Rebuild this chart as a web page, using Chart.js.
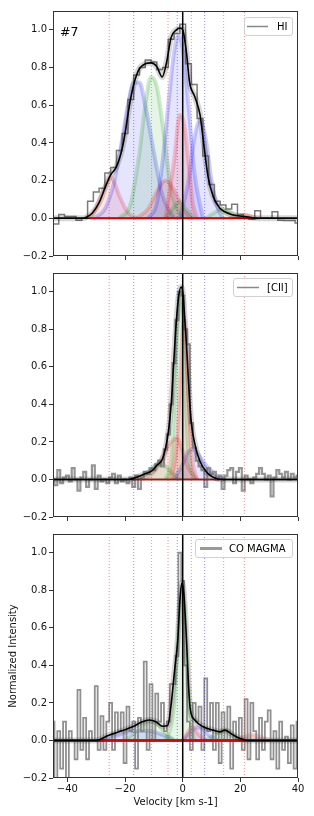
<!DOCTYPE html>
<html>
<head>
<meta charset="utf-8">
<script src="https://cdn.jsdelivr.net/npm/chart.js@4.4.0/dist/chart.umd.min.js"></script>
<style>
  html, body { margin: 0; padding: 0; background: #fff; }
  body { width: 314px; height: 816px; position: relative; overflow: hidden; }
  .wrap { position: absolute; left: 0; width: 314px; }
</style>
</head>
<body>
<div class="wrap" style="top:0px;height:264px"><canvas id="c1"></canvas></div>
<div class="wrap" style="top:264px;height:262px"><canvas id="c2"></canvas></div>
<div class="wrap" style="top:526px;height:290px"><canvas id="c3"></canvas></div>
<script>
// Axis ranges and ticks (shared by the three panels)
var xMin = -45, xMax = 40, yMin = -0.2, yMax = 1.1;
var xTicks = [-40, -20, 0, 20, 40];
var yTicks = [-0.2, 0, 0.2, 0.4, 0.6, 0.8, 1.0];

// Component centres (dotted lines) and their colours
var lineVel = [-25.5, -17, -10.8, -5.1, -1.9, 3.0, 7.6, 14.2, 21.4];
var lineCol = ["r", "b", "g", "r", "b", "r", "b", "g", "r"];

// HI spectrum, 2 km/s channels
var hiVel = [-46, -44, -42, -40, -38, -36, -34, -32, -30, -28, -26, -24, -22, -20, -18, -16, -14, -12, -10, -8, -6,
  -4, -2, 0, 2, 4, 6, 8, 10, 12, 14, 16, 18, 20, 22, 24, 26, 28, 30, 32, 34, 36, 38, 40];
var hiData = [-0.03, -0.03, 0.02, 0.01, 0.01, -0.01, 0.0, 0.09, 0.14, 0.16, 0.24, 0.27, 0.36, 0.45, 0.63, 0.76, 0.80, 0.84, 0.83, 0.79, 0.80,
  0.95, 0.98, 1.03, 0.82, 0.71, 0.53, 0.33, 0.18, 0.09, 0.07, 0.05, 0.075, 0.02, 0.0, -0.005, 0.04, 0.0, 0.0, 0.035, -0.01, -0.012, -0.012, -0.025];
var hiFitVel = [-45, -35, -33.8, -31.4, -29.1, -26.8, -25, -23.3, -22.1, -21, -20, -19, -18, -17, -16, -15, -13, -11, -9, -7.1,
  -5.7, -4, -2.2, -1, 0, 1.3, 2.4, 4.2, 6, 7.1, 8.8, 10.6, 12.9, 16.4, 22.2, 26, 40];
var hiFit = [0, 0, 0.003, 0.027, 0.08, 0.168, 0.23, 0.265, 0.31, 0.37, 0.45, 0.55, 0.64, 0.71, 0.76, 0.795, 0.82, 0.825, 0.805, 0.75,
  0.82, 0.96, 1.0, 1.01, 1.0, 0.88, 0.72, 0.645, 0.55, 0.42, 0.22, 0.115, 0.053, 0.023, 0.008, 0, 0];
var hiComps = [
  ["r", [-34, -31, -28, -26, -25, -24, -22, -19, -16], [0, 0.03, 0.13, 0.2, 0.22, 0.2, 0.12, 0.03, 0]],
  ["b", [-31, -27, -24, -21, -19, -17, -15, -13, -10, -7, -3], [0, 0.05, 0.18, 0.42, 0.6, 0.72, 0.72, 0.6, 0.35, 0.12, 0]],
  ["g", [-22, -18, -15, -13, -11, -9, -7, -4, 0], [0, 0.08, 0.35, 0.6, 0.75, 0.7, 0.5, 0.15, 0]],
  ["r", [-16, -12, -9, -6, -3, 0, 3], [0, 0.05, 0.14, 0.2, 0.15, 0.05, 0]],
  ["b", [-12, -9, -7, -5, -3, -1.5, 0, 2, 4, 7], [0, 0.08, 0.3, 0.6, 0.88, 0.97, 0.9, 0.6, 0.25, 0]],
  ["b", [-1, 2, 4, 6, 8, 10, 12, 14], [0, 0.2, 0.42, 0.52, 0.42, 0.2, 0.06, 0]],
  ["r", [-6, -3, -1, 0.5, 2, 3.5, 5], [0, 0.3, 0.55, 0.5, 0.3, 0.08, 0]],
  ["g", [-6, -3, -1, 1, 4], [0, 0.06, 0.09, 0.05, 0]],
  ["g", [8, 11, 14, 17, 20], [0, 0.03, 0.05, 0.03, 0]],
  ["r", [16, 19, 21.5, 24, 27], [0, 0.01, 0.02, 0.01, 0]]
];

// [CII] spectrum, 1 km/s channels from -45 to 40
var ciiVel = [];
for (var v = -45; v <= 40; v++) ciiVel.push(v);
var ciiData = [0.0, -0.03, 0.05, -0.02, 0.01, 0.02, -0.01, 0.06, 0.0, -0.06,
  0.01, 0.04, -0.04, 0.0, 0.075, -0.05, 0.02, -0.01, 0.0, -0.02,
  0.01, 0.03, -0.02, 0.02, -0.01, 0.0, -0.02, 0.01, -0.04, 0.02,
  -0.05, 0.01, 0.04, 0.03, 0.06, 0.05, 0.08, 0.1, 0.07, 0.16,
  0.24, 0.4, 0.62, 0.85, 1.0, 0.98, 0.8, 0.72, 0.3, 0.17,
  0.1, 0.07, 0.05, -0.04, 0.06, 0.03, 0.04, 0.0, 0.02, -0.05,
  0.02, 0.05, 0.06, -0.02, 0.04, 0.06, -0.06, 0.02, 0.0, -0.02,
  0.01, 0.03, 0.06, 0.03, 0.0, 0.02, -0.09, 0.01, 0.05, 0.03,
  0.01, 0.04, 0.0, 0.03, 0.01, 0.02];
var ciiFitVel = [-45, -19, -16, -13, -10.5, -9, -7, -5.1, -3.9, -3.2, -2.5, -1.6, -0.6, 0, 0.7, 1.3, 1.9, 2.4, 3, 4.2,
  5.9, 8.3, 10.6, 14, 40];
var ciiFit = [0, 0, 0.012, 0.03, 0.048, 0.075, 0.11, 0.24, 0.42, 0.6, 0.78, 0.95, 1.025, 1.0, 0.86, 0.72, 0.55, 0.42, 0.3, 0.19,
  0.10, 0.039, 0.012, 0, 0];
var ciiComps = [
  ["r", [-14, -10, -7, -4, -2, 0, 2, 5], [0, 0.04, 0.12, 0.2, 0.22, 0.15, 0.06, 0]],
  ["g", [-16, -12, -9, -7, -4, -1], [0, 0.04, 0.08, 0.08, 0.04, 0]],
  ["b", [-3, 0, 2, 4, 6, 9, 12, 15], [0, 0.08, 0.15, 0.16, 0.12, 0.06, 0.02, 0]],
  ["g", [-6, -4, -3, -2, -1, 0, 1, 2, 4], [0, 0.1, 0.35, 0.75, 1.0, 0.85, 0.45, 0.15, 0]],
  ["r", [-4, -2, -1, 0, 0.5, 1, 2, 3, 5], [0, 0.2, 0.5, 0.8, 0.85, 0.8, 0.45, 0.15, 0]]
];

// CO MAGMA spectrum, 1 km/s channels from -45 to 40
var coVel = ciiVel.slice();
var coData = [0.1, -0.2, 0.05, -0.15, 0.1, -0.22, 0.05, 0.0, -0.1, 0.27,
  -0.05, 0.12, -0.1, 0.05, 0.0, 0.29, -0.05, 0.13, -0.05, 0.1,
  0.2, -0.05, 0.15, 0.05, 0.15, -0.12, 0.18, 0.05, 0.1, -0.15,
  0.12, 0.05, 0.42, -0.05, 0.3, 0.0, 0.25, 0.1, 0.2, 0.05,
  0.1, 0.3, 0.3, 0.45, 1.0, 0.85, 0.4, 0.1, -0.05, 0.2,
  0.1, 0.18, -0.05, 0.33, 0.05, 0.2, -0.05, 0.2, -0.12, 0.15,
  0.0, 0.18, -0.15, 0.1, 0.0, 0.12, -0.05, 0.22, -0.1, 0.2,
  0.05, -0.1, 0.12, -0.05, 0.1, 0.16, -0.1, 0.05, -0.15, 0.1,
  -0.05, 0.02, -0.12, 0.08, -0.15, 0.1];
var coFitVel = [-45, -30.2, -25.6, -22.1, -17.4, -14, -11.6, -9.3, -7, -5.2, -4.1, -2.9, -1.7, -0.9, -0.3, 0.4, 1.3, 2, 2.6, 4.2,
  7.1, 10.6, 12.9, 14.6, 17, 19.9, 22.5, 40];
var coFit = [0, 0, 0.028, 0.046, 0.073, 0.1, 0.109, 0.1, 0.076, 0.08, 0.18, 0.36, 0.54, 0.76, 0.84, 0.78, 0.54, 0.3, 0.17, 0.109,
  0.073, 0.055, 0.046, 0.055, 0.034, 0.01, 0, 0];
var coComps = [
  ["b", [-28, -22, -17, -12, -7, -3], [0, 0.03, 0.05, 0.05, 0.03, 0]],
  ["g", [-20, -16, -13, -11, -9, -6, -3], [0, 0.05, 0.09, 0.1, 0.09, 0.04, 0]],
  ["b", [0, 3, 5, 7, 9, 12], [0, 0.05, 0.07, 0.06, 0.03, 0]],
  ["r", [0, 2, 3.5, 5, 8], [0, 0.05, 0.08, 0.04, 0]],
  ["g", [8, 11, 13, 14.5, 16, 18, 21], [0, 0.03, 0.05, 0.055, 0.05, 0.02, 0]],
  ["r", [18, 21, 24, 27, 30], [0, 0.02, 0.03, 0.02, 0]],
  ["g", [-6, -4, -3, -2, -1, -0.3, 0.5, 1.5, 2.5, 4], [0, 0.08, 0.2, 0.45, 0.72, 0.82, 0.74, 0.45, 0.15, 0]]
];

Chart.defaults.font.family = "'DejaVu Sans', sans-serif";
Chart.defaults.font.size = 10;
Chart.defaults.color = "#111";

var rgb = { r: "255,0,0", b: "0,0,255", g: "0,150,0" };

function pts(xs, ys) {
  return xs.map(function (x, i) { return { x: x, y: ys[i] }; });
}
function minus(s) { return s.replace("-", "\u2212"); }

// frame, panel tag and legend box, drawn after the datasets
var decor = {
  id: "decor",
  afterDraw: function (chart) {
    var a = chart.chartArea, ctx = chart.ctx, o = chart.options.plugins.decor;
    ctx.save();
    ctx.strokeStyle = "#333";
    ctx.lineWidth = 1;
    ctx.strokeRect(a.left + 0.5, a.top + 0.5, a.right - a.left - 1, a.bottom - a.top - 1);
    if (o.tag) {
      ctx.fillStyle = "#000";
      ctx.font = "12.5px 'DejaVu Sans', sans-serif";
      ctx.textBaseline = "alphabetic";
      ctx.fillText(o.tag, 60, 35.5);
    }
    var b = o.box;
    ctx.beginPath();
    ctx.roundRect(b[0] + 0.5, b[1] + 0.5, b[2], b[3], 2.5);
    ctx.fillStyle = "rgba(255,255,255,0.8)";
    ctx.fill();
    ctx.strokeStyle = "#d0d0d0";
    ctx.stroke();
    var cy = b[1] + b[3] / 2 + 0.5;
    ctx.beginPath();
    ctx.moveTo(b[0] + o.line[0], cy);
    ctx.lineTo(b[0] + o.line[1], cy);
    ctx.strokeStyle = o.lineColor;
    ctx.lineWidth = o.lineWidth;
    ctx.stroke();
    ctx.fillStyle = "#000";
    ctx.font = "10px 'DejaVu Sans', sans-serif";
    ctx.textBaseline = "middle";
    ctx.fillText(o.label, b[0] + o.line[2], cy + 0.5);
    ctx.restore();
  }
};

function panel(id, cfg) {
  var ds = [];
  // bottom layers first; the array is reversed at the end
  cfg.comps.forEach(function (c) {
    ds.push({
      data: pts(c[1], c[2]), borderColor: "rgba(" + rgb[c[0]] + ",0.2)", backgroundColor: "rgba(" + rgb[c[0]] + ",0.1)",
      borderWidth: 4, fill: "origin", cubicInterpolationMode: "monotone"
    });
  });
  ds.push({ data: pts(cfg.vel, cfg.data), stepped: "middle", borderColor: cfg.grey, borderWidth: cfg.greyWidth });
  lineVel.forEach(function (v, i) {
    ds.push({
      data: [{ x: v, y: yMin }, { x: v, y: yMax }], borderColor: "rgba(" + rgb[lineCol[i]] + ",0.45)",
      borderWidth: 1, borderDash: [1, 2]
    });
  });
  ds.push({ data: [{ x: xMin, y: 0 }, { x: xMax, y: 0 }], borderColor: "#111", borderWidth: 1.5 });
  ds.push({ data: [{ x: cfg.red[0], y: 0 }, { x: cfg.red[1], y: 0 }], borderColor: "rgba(235,0,0,0.9)", borderWidth: cfg.redWidth });
  ds.push({ data: pts(cfg.fitVel, cfg.fit), borderColor: "rgba(0,0,0,0.16)", borderWidth: 6, cubicInterpolationMode: "monotone" });
  ds.push({ data: pts(cfg.fitVel, cfg.fit), borderColor: "#000", borderWidth: 1.6, cubicInterpolationMode: "monotone" });
  ds.push({ data: [{ x: 0, y: yMin }, { x: 0, y: yMax }], borderColor: "#000", borderWidth: 1.5 });
  ds.forEach(function (d) { d.clip = 0; d.pointRadius = 0; if (!d.fill) d.fill = false; });
  ds.reverse();

  return new Chart(document.getElementById(id), {
    type: "line",
    data: { datasets: ds },
    options: {
      responsive: true,
      maintainAspectRatio: false,
      animation: false,
      events: [],
      layout: { padding: { top: cfg.padTop, right: 16, left: 0, bottom: 0 }, autoPadding: false },
      plugins: { legend: { display: false }, tooltip: { enabled: false }, decor: cfg.decor },
      scales: {
        x: {
          type: "linear", min: xMin, max: xMax,
          afterBuildTicks: function (s) { s.ticks = xTicks.map(function (t) { return { value: t }; }); },
          afterFit: function (s) { s.height = cfg.xH; },
          grid: { drawOnChartArea: false, drawTicks: true, tickLength: 4, color: "#333" },
          border: { display: false },
          ticks: {
            autoSkip: false, maxRotation: 0, padding: 1,
            callback: function (t) { return cfg.showX ? minus(String(t)) : ""; }
          },
          title: { display: cfg.showX, text: "Velocity [km s-1]", padding: { top: 0, bottom: 8 } }
        },
        y: {
          min: yMin, max: yMax,
          afterBuildTicks: function (s) { s.ticks = yTicks.map(function (t) { return { value: t }; }); },
          afterFit: function (s) { s.width = 53; },
          grid: { drawOnChartArea: false, drawTicks: true, tickLength: 4, color: "#333" },
          border: { display: false },
          ticks: { padding: 2, callback: function (t) { return minus(Number(t).toFixed(1)); } },
          title: { display: cfg.showX, text: "Normalized Intensity", padding: { top: 7, bottom: 0 } }
        }
      }
    },
    plugins: [decor]
  });
}

panel("c1", {
  vel: hiVel, data: hiData, fitVel: hiFitVel, fit: hiFit, comps: hiComps,
  grey: "rgba(100,100,100,0.85)", greyWidth: 1.5, red: [-32.5, 26], redWidth: 2,
  padTop: 11, xH: 8, showX: false,
  decor: { tag: "#7", box: [244, 17, 48, 18], line: [3, 24, 33], lineColor: "#888", lineWidth: 1.5, label: "HI" }
});
panel("c2", {
  vel: ciiVel, data: ciiData, fitVel: ciiFitVel, fit: ciiFit, comps: ciiComps,
  grey: "rgba(130,130,130,0.85)", greyWidth: 2.2, red: [-17, 13], redWidth: 1.5,
  padTop: 9, xH: 9, showX: false,
  decor: { tag: "", box: [233, 14, 59, 18], line: [4, 26, 34], lineColor: "#888", lineWidth: 1.5, label: "[CII]" }
});
panel("c3", {
  vel: coVel, data: coData, fitVel: coFitVel, fit: coFit, comps: coComps,
  grey: "rgba(125,125,125,0.85)", greyWidth: 1.8, red: [xMin, xMax], redWidth: 3,
  padTop: 8, xH: 38, showX: true,
  decor: { tag: "", box: [195, 13, 97, 18], line: [5, 27, 34], lineColor: "#999", lineWidth: 3, label: "CO MAGMA" }
});
</script>
</body>
</html>
